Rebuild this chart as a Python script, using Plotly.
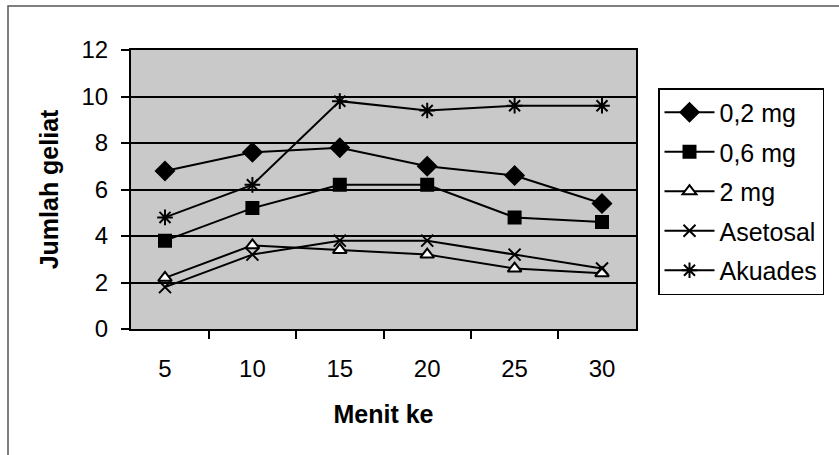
import plotly.graph_objects as go

menit = ["5", "10", "15", "20", "25", "30"]
dosis_02 = [6.8, 7.6, 7.8, 7.0, 6.6, 5.4]
dosis_06 = [3.8, 5.2, 6.2, 6.2, 4.8, 4.6]
dosis_2 = [2.2, 3.6, 3.4, 3.2, 2.6, 2.4]
asetosal = [1.8, 3.2, 3.8, 3.8, 3.2, 2.6]
akuades = [4.8, 6.2, 9.8, 9.4, 9.6, 9.6]

series = [
    ("0,2 mg", dosis_02, "diamond", "black", 14),
    ("0,6 mg", dosis_06, "square", "black", 12),
    ("2 mg", dosis_2, "triangle-up", "white", 12),
    ("Asetosal", asetosal, "x-thin-open", "black", 12),
    ("Akuades", akuades, "asterisk-open", "black", 13),
]

FONT = "Liberation Sans, Arial, sans-serif"
fig = go.Figure()
for i, (name, vals, sym, fill, size) in enumerate(series):
    fig.add_trace(go.Scatter(
        x=menit, y=vals, name=name, mode="lines+markers",
        legendgroup=f"g{i}",
        line=dict(color="black", width=2),
        marker=dict(symbol=sym, color=fill, size=size,
                    line=dict(color="black", width=2)),
    ))

W, H = 839, 455
L, R, T, B = 131, 636, 50, 329
pw, ph = R - L, B - T

def px(x):
    return (x - L) / pw

def py(y):
    return (B - y) / ph

fig.update_layout(
    width=W, height=H,
    margin=dict(l=L, r=W - R, t=T, b=H - B),
    paper_bgcolor="white",
    plot_bgcolor="#c9c9c9",
    font=dict(family=FONT, size=24, color="black"),
    showlegend=True,
    legend=dict(
        x=px(658), y=py(88), xanchor="left", yanchor="top",
        bgcolor="white", bordercolor="black", borderwidth=1.5,
        font=dict(size=25), itemwidth=50, tracegroupgap=4,
    ),
    xaxis=dict(
        type="category", tickson="boundaries", ticks="outside",
        ticklen=8, tickwidth=1.5, tickcolor="black",
        showgrid=False, showline=True, linecolor="black", linewidth=2,
        mirror=True, ticklabelstandoff=17,
        tickfont=dict(size=24),
        title=dict(text="<b>Menit ke</b>", font=dict(size=25), standoff=25),
    ),
    yaxis=dict(
        range=[0, 12], dtick=2, ticks="outside", ticklen=8,
        tickwidth=1.5, tickcolor="black",
        showgrid=True, gridcolor="black", gridwidth=2,
        zeroline=False, showline=True, linecolor="black", linewidth=2,
        mirror=True, ticklabelstandoff=8,
        tickfont=dict(size=24),
        title=dict(text="<b>Jumlah geliat</b>", font=dict(size=25), standoff=16),
    ),
    shapes=[dict(
        type="rect", xref="paper", yref="paper",
        x0=px(8), x1=px(900), y0=py(520), y1=py(6),
        line=dict(color="#555555", width=1.5), layer="below",
    )],
)

fig.write_html(
    "out.html",
    config={"displayModeBar": False},
    post_script="document.body.style.margin='0';document.body.style.overflow='hidden';",
)
